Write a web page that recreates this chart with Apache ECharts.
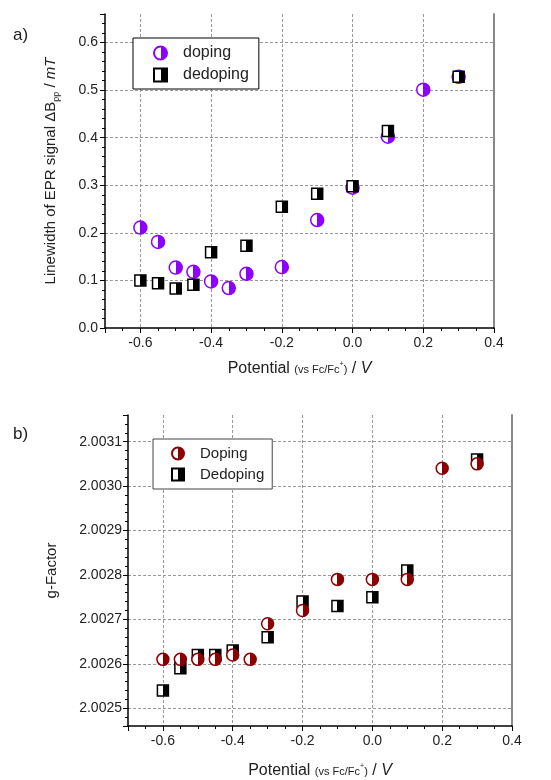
<!DOCTYPE html>
<html>
<head>
<meta charset="utf-8">
<script src="https://cdn.jsdelivr.net/npm/echarts@6/dist/echarts.min.js"></script>
<style>
  html, body { margin: 0; padding: 0; background: #fff; }
  #chart { width: 551px; height: 780px; }
</style>
</head>
<body>
<div id="chart"></div>
<script>
// Panel a) linewidth, panel b) g-factor
var potDoping = [-0.6, -0.55, -0.5, -0.45, -0.4, -0.35, -0.3, -0.2, -0.1, 0.0, 0.1, 0.2, 0.3];
var potDedoping = [-0.6, -0.55, -0.5, -0.45, -0.4, -0.3, -0.2, -0.1, 0.0, 0.1, 0.3];

var widthDoping = [0.211, 0.181, 0.127, 0.118, 0.098, 0.084, 0.114, 0.128, 0.227, 0.295, 0.402, 0.501, 0.528];
var widthDedoping = [0.100, 0.094, 0.083, 0.091, 0.159, 0.173, 0.255, 0.282, 0.298, 0.414, 0.528];

var gDoping = [2.00261, 2.00261, 2.00261, 2.00261, 2.00262, 2.00261, 2.00269, 2.00272, 2.00279, 2.00279, 2.00279, 2.00304, 2.00305];
var gDedoping = [2.00254, 2.00259, 2.00262, 2.00262, 2.00263, 2.00266, 2.00274, 2.00273, 2.00275, 2.00281, 2.00306];

var legendA = ['doping', 'dedoping'];
var legendB = ['Doping', 'Dedoping'];

var FONT = '"Liberation Sans", Arial, sans-serif';
var PURPLE = '#8c00ff';
var DARKRED = '#8b0000';

function pairs(xs, ys) {
    return xs.map(function (x, i) { return [x, ys[i]]; });
}

// left half white, right half coloured
function half(c) {
    return new echarts.graphic.LinearGradient(0, 0, 1, 0, [
        { offset: 0, color: '#fff' },
        { offset: 0.5, color: '#fff' },
        { offset: 0.5, color: c },
        { offset: 1, color: c }
    ]);
}

var xName = 'Potential {small|(vs Fc/Fc}{sup|+}{small|)} / {it|V}';
var xNameStyle = {
    fontFamily: FONT, fontSize: 16, color: '#222',
    rich: {
        small: { fontFamily: FONT, fontSize: 11, color: '#222', verticalAlign: 'bottom', padding: [0, 0, 2, 0] },
        sup: { fontFamily: FONT, fontSize: 7, color: '#222', verticalAlign: 'top' },
        it: { fontFamily: FONT, fontSize: 16, color: '#222', fontStyle: 'italic' }
    }
};

function xAxisFor(idx, gap) {
    return {
        type: 'value', gridIndex: idx, min: -0.7, max: 0.4,
        name: xName, nameLocation: 'middle', nameGap: gap, nameTextStyle: xNameStyle,
        axisLine: { onZero: false, lineStyle: { color: '#000', width: 1.5 } },
        axisTick: { length: 5, lineStyle: { color: '#000' } },
        minorTick: { show: true, splitNumber: 4, length: 3, lineStyle: { color: '#000' } },
        axisLabel: {
            showMinLabel: false, fontFamily: FONT, fontSize: 14, color: '#222', margin: 8,
            formatter: function (v) { return v.toFixed(1); }
        },
        splitLine: { show: true, showMinLine: false, showMaxLine: false, lineStyle: { type: [3, 2], color: '#999' } }
    };
}

function rightBorder(idx, min, max) {
    return {
        type: 'value', gridIndex: idx, position: 'right', min: min, max: max,
        axisLine: { show: true, onZero: false, lineStyle: { color: '#888', width: 2 } },
        axisTick: { show: false }, axisLabel: { show: false }, splitLine: { show: false }
    };
}

var option = {
    animation: false,
    title: [
        { text: 'a)', left: 8, top: 22, textStyle: { fontFamily: FONT, fontSize: 17, fontWeight: 'normal', color: '#222' } },
        { text: 'b)', left: 8, top: 421, textStyle: { fontFamily: FONT, fontSize: 17, fontWeight: 'normal', color: '#222' } }
    ],
    legend: [
        {
            data: legendA, orient: 'vertical', left: 133, top: 38,
            backgroundColor: '#fff', borderColor: '#000', borderWidth: 1,
            padding: [7, 10, 6, 20], itemGap: 6, itemWidth: 13, itemHeight: 13,
            selectedMode: false,
            textStyle: { fontFamily: FONT, fontSize: 16, color: '#222', padding: [0, 0, 0, 11] }
        },
        {
            data: legendB, orient: 'vertical', left: 153, top: 439,
            backgroundColor: '#fff', borderColor: '#444', borderWidth: 1,
            padding: [7, 8, 7, 18], itemGap: 6, itemWidth: 12, itemHeight: 12,
            selectedMode: false,
            textStyle: { fontFamily: FONT, fontSize: 15, color: '#222', padding: [0, 0, 0, 11] }
        }
    ],
    grid: [
        { left: 105, right: 57, top: 14, bottom: 452 },
        { left: 128, right: 39, top: 415, bottom: 52 }
    ],
    xAxis: [xAxisFor(0, 33), xAxisFor(1, 37)],
    yAxis: [
        {
            type: 'value', gridIndex: 0, min: 0, max: 0.66, interval: 0.1,
            name: 'Linewidth of EPR signal ΔB{sub|pp} / {it|mT}',
            nameLocation: 'middle', nameGap: 47,
            nameTextStyle: {
                fontFamily: FONT, fontSize: 15, color: '#222',
                rich: {
                    sub: { fontFamily: FONT, fontSize: 9, color: '#222', verticalAlign: 'bottom', padding: [0, 0, -3, 0] },
                    it: { fontFamily: FONT, fontSize: 15, color: '#222', fontStyle: 'italic' }
                }
            },
            axisLine: { onZero: false, lineStyle: { color: '#000', width: 1.5 } },
            axisTick: { length: 5, lineStyle: { color: '#000' } },
            minorTick: { show: true, splitNumber: 5, length: 3, lineStyle: { color: '#000' } },
            axisLabel: {
                showMaxLabel: false, fontFamily: FONT, fontSize: 14, color: '#222', margin: 7,
                formatter: function (v) { return v.toFixed(1); }
            },
            splitLine: { show: true, showMinLine: false, showMaxLine: false, lineStyle: { type: [3, 2], color: '#999' } }
        },
        rightBorder(0, 0, 0.66),
        {
            type: 'value', gridIndex: 1, min: 2.00246, max: 2.00316,
            name: 'g-Factor', nameLocation: 'middle', nameGap: 69,
            nameTextStyle: { fontFamily: FONT, fontSize: 15, color: '#222' },
            axisLine: { onZero: false, lineStyle: { color: '#000', width: 1.5 } },
            axisTick: { length: 5, lineStyle: { color: '#000' } },
            minorTick: { show: true, splitNumber: 5, length: 3, lineStyle: { color: '#000' } },
            axisLabel: {
                showMinLabel: false, showMaxLabel: false, fontFamily: FONT, fontSize: 14, color: '#222', margin: 6,
                formatter: function (v) { return v.toFixed(4); }
            },
            splitLine: { show: true, showMinLine: false, showMaxLine: false, lineStyle: { type: [3, 2], color: '#999' } }
        },
        rightBorder(1, 2.00246, 2.00316)
    ],
    series: [
        {
            name: 'doping', type: 'scatter', xAxisIndex: 0, yAxisIndex: 0,
            symbol: 'circle', symbolSize: 13,
            itemStyle: { color: half(PURPLE), borderColor: PURPLE, borderWidth: 1.5, opacity: 1 },
            data: pairs(potDoping, widthDoping)
        },
        {
            name: 'dedoping', type: 'scatter', xAxisIndex: 0, yAxisIndex: 0,
            symbol: 'rect', symbolSize: 11,
            itemStyle: { color: half('#000'), borderColor: '#000', borderWidth: 1.5, opacity: 1 },
            data: pairs(potDedoping, widthDedoping)
        },
        // dedoping drawn first in b), circles on top
        {
            name: 'Dedoping', type: 'scatter', xAxisIndex: 1, yAxisIndex: 2,
            symbol: 'rect', symbolSize: 11,
            itemStyle: { color: half('#000'), borderColor: '#000', borderWidth: 1.5, opacity: 1 },
            data: pairs(potDedoping, gDedoping)
        },
        {
            name: 'Doping', type: 'scatter', xAxisIndex: 1, yAxisIndex: 2,
            symbol: 'circle', symbolSize: 12,
            itemStyle: { color: half(DARKRED), borderColor: DARKRED, borderWidth: 1.5, opacity: 1 },
            data: pairs(potDoping, gDoping)
        }
    ]
};

var chart = echarts.init(document.getElementById('chart'));
chart.setOption(option);
</script>
</body>
</html>
